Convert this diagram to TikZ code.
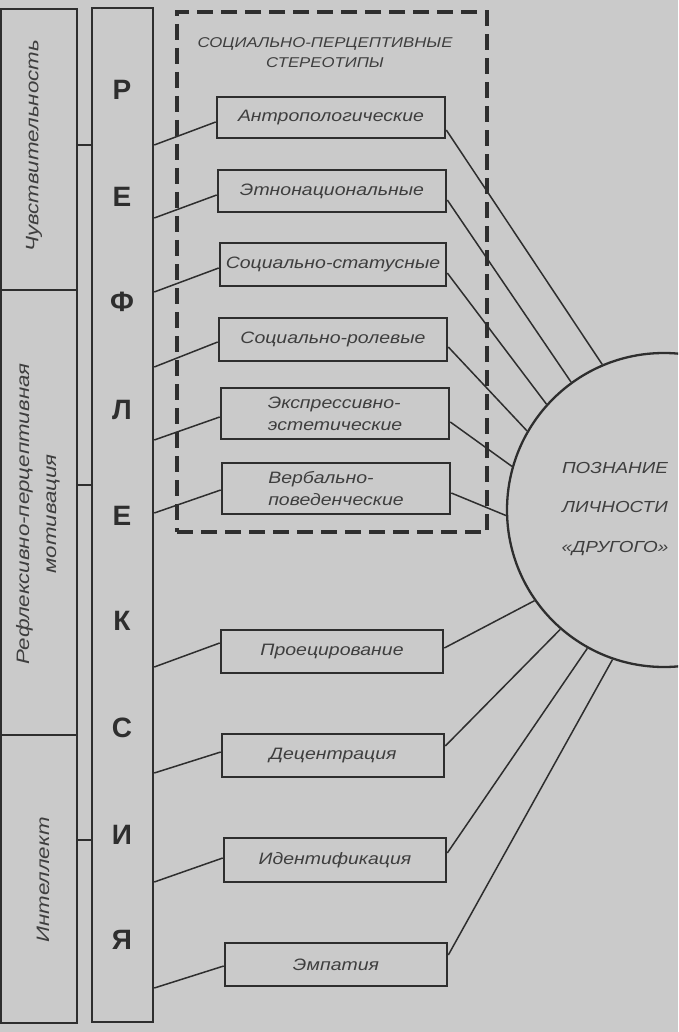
\documentclass[tikz,border=0pt]{standalone}
\usepackage{fontspec}
\setmainfont{Liberation Sans}
\newfontfamily\wfont[FakeStretch=1.18]{Liberation Sans}
\newfontfamily\rfont[FakeStretch=1.24]{Liberation Sans}
\usetikzlibrary{calc}
\definecolor{bgc}{RGB}{202,202,202}
\definecolor{ink}{RGB}{46,46,46}
\definecolor{txt}{RGB}{62,62,62}
\begin{document}
\begin{tikzpicture}[x=1pt,y=-1pt,
  frame/.style={draw=ink,line width=2.5pt,inner sep=0pt},
  sbox/.style={draw=ink,line width=2.6pt,minimum width=228pt,minimum height=42pt,inner sep=2pt,
    font=\wfont\itshape\fontsize{16.5}{22}\selectfont,text=txt,align=left},
  lbox/.style={sbox,minimum width=222pt,minimum height=43pt},
  link/.style={draw=ink,line width=1.5pt},
  letter/.style={font=\bfseries\fontsize{28}{28}\selectfont,text=ink},
  rtext/.style={rotate=90,font=\rfont\itshape\fontsize{18}{27}\selectfont,text=txt,align=center},
  dashbox/.style={draw=ink,line width=3.5pt,dash pattern=on 16pt off 8pt,inner sep=0pt}]
\useasboundingbox (0,0) rectangle (678,1032);
\fill[bgc] (0,0) rectangle (678,1032);
\clip (0,0) rectangle (678,1032);

% column 1
\node[frame,minimum width=76pt,minimum height=281pt] (c1a) at (39,149.5) {};
\node[frame,minimum width=76pt,minimum height=445pt] (c1b) at (39,512.5) {};
\node[frame,minimum width=76pt,minimum height=288pt] (c1c) at (39,879) {};
\node[rtext] (t1a) at (34,146) {Чувствительность};
\node[rtext] (t1b) at (38,514) {Рефлексивно-перцептивная\\мотивация};
\node[rtext] (t1c) at (43,880) {Интеллект};

% column 2
\node[frame,minimum width=61pt,minimum height=1014pt] (c2) at (122.5,515) {};
\foreach \l/\y [count=\i] in {Р/90,Е/197,Ф/302,Л/410,Е/516,К/621,С/728,И/835,Я/940}
  \node[letter] (L\i) at (122,\y) {\l};

% strip separators
\foreach \y [count=\i] in {145,485,840}{
  \coordinate (sa\i) at (c1a.east |- 0,\y);
  \coordinate (sb\i) at (c2.west |- 0,\y);
  \draw[ink,line width=2.2pt] (sa\i) -- (sb\i);
}

% dashed group
\node[dashbox,minimum width=310pt,minimum height=520pt] (grp) at (332,272) {};
\node[font=\wfont\itshape\fontsize{14.2}{20}\selectfont,text=txt,align=center] (gtitle) at (325,53)
  {СОЦИАЛЬНО-ПЕРЦЕПТИВНЫЕ\\СТЕРЕОТИПЫ};

% boxes
\node[sbox,minimum height=41pt] (b1) at (331,117.5) {Антропологические};
\node[sbox] (b2) at (332,191) {Этнонациональные};
\node[sbox,minimum width=226pt,minimum height=43pt] (b3) at (333,264.5) {Социально-статусные};
\node[sbox,minimum height=43pt] (b4) at (333,339.5) {Социально-ролевые};
\node[sbox,minimum height=51pt] (b5) at (335,413.5) {Экспрессивно-\\эстетические};
\node[sbox,minimum height=51pt] (b6) at (336,488.5) {Вербально-\\поведенческие};
\node[lbox] (b7) at (332,651.5) {Проецирование};
\node[lbox] (b8) at (333,755.5) {Децентрация};
\node[lbox,minimum height=44pt] (b9) at (335,860) {Идентификация};
\node[lbox] (b10) at (336,964.5) {Эмпатия};

% circle
\node[draw=ink,line width=2.3pt,circle,minimum size=314pt,inner sep=0pt] (circ) at (664,510) {};
\node[font=\wfont\itshape\fontsize{16}{39.5}\selectfont,text=txt,align=center] (ctext) at (615,509)
  {ПОЗНАНИЕ\\ЛИЧНОСТИ\\«ДРУГОГО»};

% links from column 2 to boxes
\foreach \b/\y/\o in {b1/145/4.5,b2/218/4,b3/292/3.5,b4/367/2.5,b5/440/3.5,b6/513/1.5,
                      b7/667/-8.5,b8/773/-3.5,b9/882/-2,b10/988/1.5}{
  \coordinate (r\b) at (c2.east |- 0,\y);
  \draw[link] (r\b) -- ($(\b.west)+(0,\o)$);
}

% links from boxes to circle
\foreach \b/\o/\a in {b1/12.5/113.9,b2/9/126.4,b3/8.5/138.8,b4/7.5/150.5,b5/8.5/164.6,b6/4.5/182.9,
                      b7/-3.5/215.6,b8/-9.5/229.8,b9/-7/241.1,b10/-9.5/251.9}{
  \draw[link] ($(\b.east)+(0,\o)$) -- (circ.\a);
}
\end{tikzpicture}
\end{document}
